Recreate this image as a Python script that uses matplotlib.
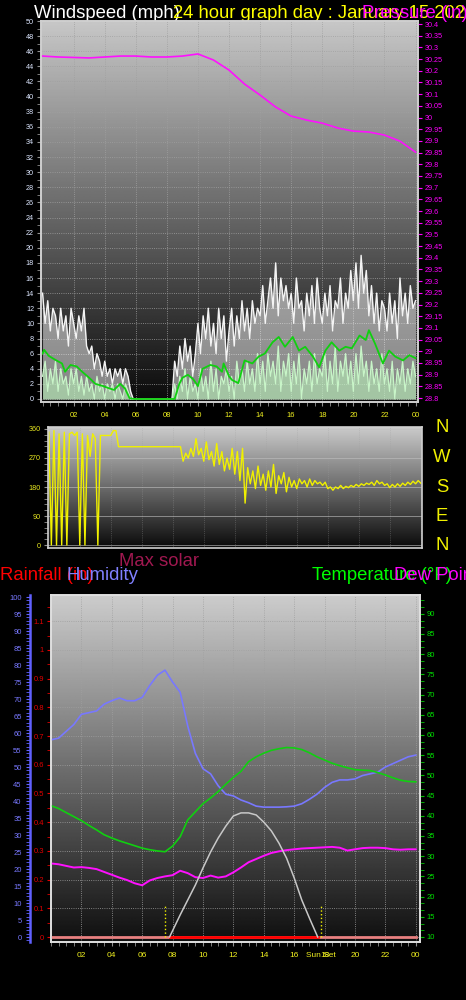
import numpy as np
import matplotlib
matplotlib.use('Agg')
from matplotlib import pyplot as plt
from matplotlib.ticker import MultipleLocator, FormatStrFormatter

plt.rcParams['font.family'] = ['Liberation Sans', 'DejaVu Sans']

LARG, ALT = 466, 1000
PASSO = 10  # minutos entre leituras de vento e direcao

# Vento: rajada e velocidade (mph), uma leitura a cada 10 min
Rajada = [14, 10, 13, 9, 12, 11, 8, 12, 9, 11, 7, 12,
          10, 8, 11, 9, 12, 7, 6, 7, 4, 6, 5, 3,
          5, 3, 4, 2, 4, 3, 4, 2, 4, 3, 1, 0,
          0, 0, 0, 0, 0, 0, 0, 0, 0, 0, 0, 0,
          0, 0, 0, 5, 3, 7, 4, 8, 5, 7, 3, 6,
          10, 6, 11, 8, 12, 7, 10, 6, 12, 8, 11, 5,
          9, 12, 7, 11, 8, 13, 9, 12, 8, 13, 10, 12,
          11, 15, 10, 13, 16, 12, 18, 11, 16, 13, 15, 12,
          14, 10, 16, 12, 13, 9, 14, 11, 15, 10, 16, 12,
          10, 14, 11, 15, 9, 13, 12, 16, 10, 14, 12, 17,
          13, 18, 12, 19, 14, 17, 11, 15, 10, 14, 9, 13,
          12, 9, 14, 10, 13, 8, 16, 11, 14, 10, 15, 12, 13]
Vento = [3, 5, 1, 4, 2, 5, 1, 4, 2, 3, 0.5, 4,
         2, 4, 1, 3, 0.5, 3, 1, 2, 0, 3, 1, 2,
         0, 2, 1, 2, 0, 2, 1, 0, 2, 1, 0, 0,
         0, 0, 0, 0, 0, 0, 0, 0, 0, 0, 0, 0,
         0, 0, 0, 2, 0, 3, 1, 4, 0, 3, 1, 2,
         0, 4, 1, 3, 0, 5, 1, 4, 0, 3, 2, 4,
         1, 3, 0, 5, 2, 4, 1, 5, 2, 4, 1, 6,
         2, 5, 1, 6, 3, 5, 2, 7, 1, 5, 3, 6,
         1, 5, 2, 6, 0, 4, 2, 5, 1, 6, 2, 4,
         3, 6, 1, 5, 2, 7, 1, 5, 3, 6, 2, 5,
         1, 6, 2, 7, 3, 5, 1, 5, 2, 4, 1, 6,
         2, 4, 1, 5, 0, 4, 2, 5, 1, 4, 2, 5, 3]

# Media do vento (hora, mph)
MediaHora = [0, 0.1, 0.4, 0.8, 1.25, 1.45, 1.8, 2.2, 2.55, 3.0, 3.4, 3.9, 4.3, 4.6,
             5.0, 5.3, 5.6, 5.9, 8.5, 8.8, 9.0, 9.35, 9.7, 10.0, 10.3, 10.8, 11.2,
             11.55, 11.65, 12.0, 12.2, 12.6, 13.0, 13.5, 13.9, 14.3, 14.8, 15.2, 15.6,
             16.1, 16.5, 16.9, 17.4, 17.8, 18.2, 18.6, 19.1, 19.5, 19.9, 20.4, 20.8,
             21.0, 21.4, 21.9, 22.3, 22.7, 23.2, 23.6, 24.0]
MediaVento = [6.0, 6.5, 5.7, 5.2, 4.7, 3.6, 4.5, 4.3, 3.6, 2.8, 2.0, 1.7, 1.4, 1.2,
              2.0, 1.4, 0.1, 0, 0, 2.0, 2.8, 3.2, 2.6, 1.7, 4.0, 4.5, 4.3,
              3.6, 4.7, 3.0, 2.5, 2.1, 5.1, 4.7, 5.6, 6.0, 7.5, 8.2, 6.9,
              8.2, 6.4, 6.9, 5.6, 4.2, 6.4, 7.5, 6.4, 6.9, 6.7, 8.4, 7.8,
              9.1, 7.3, 4.7, 6.4, 5.6, 5.1, 5.8, 5.4]

# Pressao (inHg), de hora em hora
PressaoHora = list(range(25))
Pressao = [30.263, 30.259, 30.257, 30.255, 30.259, 30.263, 30.263, 30.259, 30.259,
           30.263, 30.272, 30.246, 30.203, 30.143, 30.096, 30.045, 30.006, 29.989,
           29.976, 29.955, 29.942, 29.938, 29.925, 29.899, 29.852]

# Direcao do vento (graus), a cada 10 min
Direcao = [350, 0, 355, 0, 345, 0, 350, 0, 345, 350, 340, 350,
           0, 345, 0, 340, 275, 345, 330, 0, 340, 340, 340, 340,
           340, 355, 355, 305, 305, 305, 305, 305, 305, 305, 305, 305,
           305, 305, 305, 305, 305, 305, 305, 305, 305, 305, 305, 305,
           305, 305, 305, 305, 260, 285, 270, 300, 275, 330, 280, 300,
           260, 320, 265, 290, 245, 315, 250, 290, 230, 270, 235, 300,
           220, 290, 200, 300, 130, 240, 190, 230, 175, 245, 185, 220,
           170, 230, 180, 250, 160, 215, 190, 225, 165, 210, 180, 200,
           175, 205, 190, 200, 180, 205, 185, 200, 190, 195, 185, 195,
           175, 180, 170, 180, 175, 185, 175, 182, 178, 185, 180, 188,
           182, 190, 185, 192, 188, 195, 185, 200, 190, 195, 185, 190,
           178, 188, 180, 190, 182, 192, 185, 195, 188, 198, 190, 200, 192]

# Umidade (%), temperatura e ponto de orvalho (F), a cada 30 min
HoraMeia = [i / 2 for i in range(49)]
Umidade = [58, 58.5, 60.5, 62.5, 65.5, 66, 66.5, 68.5, 69.5, 70.3, 69.5, 69.5,
           70.5, 74, 77, 78.5, 75, 72, 62, 54, 49.5, 48, 44.5, 42,
           41.5, 40.3, 39.5, 38.5, 38.2, 38.2, 38.2, 38.3, 38.5, 39.2, 40.5, 42,
           44, 45.5, 46.2, 46.2, 46.5, 47.5, 48, 48.5, 50, 51, 52, 53, 53.5]
Temperatura = [42.5, 41.8, 40.8, 39.8, 38.8, 37.6, 36.5, 35.3, 34.5, 33.8, 33.2, 32.6,
               32, 31.6, 31.3, 31.1, 32.5, 34.8, 39, 41, 43, 44.4, 46, 47.8,
               49.5, 51, 53.4, 54.6, 55.5, 56.2, 56.6, 56.9, 56.8, 56.4, 55.6, 54.6,
               53.8, 53, 52.4, 51.9, 51.4, 51.3, 51.2, 50.7, 50.1, 49.4, 48.8, 48.5, 48.4]
Orvalho = [28.2, 28, 27.6, 27.2, 27.3, 27.1, 26.8, 26.1, 25.4, 24.7, 24.1, 23.3,
           22.8, 24, 24.6, 25, 25.3, 26.4, 25.8, 24.8, 24.6, 25.2, 24.7, 25,
           26, 27.2, 28.5, 29.3, 30.1, 30.8, 31.2, 31.5, 31.7, 31.9, 32, 32.1,
           32.2, 32.3, 32.1, 31.4, 31.7, 32, 32.1, 32.1, 32, 31.7, 31.6, 31.7, 31.7]

# Radiacao solar maxima (W/m2)
SolarHora = [7.8, 8.5, 9, 9.5, 10, 10.5, 11, 11.5, 12, 12.5, 13, 13.5, 14, 14.5,
             15, 15.5, 16, 16.5, 17, 17.55]
Solar = [0, 65, 109, 153, 203, 250, 291, 326, 356, 365, 365, 359, 338, 312,
         276, 232, 174, 109, 56, 0]

# Chuva (in)
ChuvaHora = [0, 24]
Chuva = [0.0, 0.0]

NascerSol = 7.5
PorSol = 17.75

HorasRotulo = [2, 4, 6, 8, 10, 12, 14, 16, 18, 20, 22, 24]
Rotulos = ['02', '04', '06', '08', '10', '12', '14', '16', '18', '20', '22', '00']


def caixa(x0, y0, x1, y1):
    return [x0 / LARG, 1 - y1 / ALT, (x1 - x0) / LARG, (y1 - y0) / ALT]


def fundo(ax, topo, base):
    grad = np.linspace(topo, base, 256)[:, None]
    ax.imshow(grad, extent=[0, 1, 0, 1], transform=ax.transAxes, cmap='gray',
              vmin=0, vmax=1, aspect='auto', zorder=0, interpolation='bilinear')


def moldura(ax, cor='#d0d0d0'):
    for lado in ax.spines.values():
        lado.set_color(cor)
        lado.set_linewidth(1.2)


def texto(x, y, s, cor, tam=13.3, **kw):
    fig.text(x / LARG, 1 - y / ALT, s, color=cor, fontsize=tam, zorder=-1, **kw)


fig = plt.figure(figsize=(LARG / 100, ALT / 100), dpi=100, facecolor='black')

#############################################################################
# Painel do vento e pressao
#############################################################################
ax1 = fig.add_axes(caixa(41, 21, 418, 402))
fundo(ax1, 0.78, 0.04)
t = np.arange(len(Rajada)) * PASSO / 60.

ax1.fill_between(t, 0, Rajada, color='white', alpha=0.5, lw=0, zorder=2)
ax1.plot(t, Rajada, color='#f4f4f4', lw=1.0, zorder=3)
ax1.fill_between(t, 0, Vento, color='#b8f0b8', alpha=0.6, lw=0, zorder=4)
ax1.plot(t, Vento, color='#c8f5c8', lw=0.9, zorder=5)
ax1.plot(MediaHora, MediaVento, color='#10d010', lw=1.3, zorder=6)

ax1.set_xlim(-0.1, 24.16)
ax1.set_ylim(-0.4, 50)
ax1.yaxis.set_major_locator(MultipleLocator(2))
ax1.yaxis.set_minor_locator(MultipleLocator(1))
ax1.set_xticks(HorasRotulo)
ax1.set_xticklabels(Rotulos)
ax1.xaxis.set_minor_locator(MultipleLocator(0.5))
ax1.tick_params(axis='y', which='both', colors='#909090', labelcolor='#dce6ff',
                labelsize=5.2, length=3, pad=2)
ax1.tick_params(axis='x', which='both', colors='#909090', labelcolor='#f0f020',
                labelsize=5.5, length=3, pad=4)
ax1.grid(True, which='major', color='#a0a0a0', ls=':', lw=0.6)
moldura(ax1)

ax1b = ax1.twinx()
ax1b.plot(PressaoHora, Pressao, color='#ff10ff', lw=1.2)
ax1b.set_ylim(28.783, 30.413)
ax1b.yaxis.set_major_locator(MultipleLocator(0.05))
ax1b.yaxis.set_major_formatter(FormatStrFormatter('%g'))
ax1b.tick_params(axis='y', colors='#ff00ff', labelcolor='#ff00ff', labelsize=5.2,
                 length=3, pad=2)
moldura(ax1b)

#############################################################################
# Painel da direcao
#############################################################################
ax2 = fig.add_axes(caixa(48, 427, 422, 548))
fundo(ax2, 0.80, 0.04)
ax2.plot(np.arange(len(Direcao)) * PASSO / 60., Direcao, color='#f0f000', lw=1)
ax2.set_xlim(-0.05, 24.08)
ax2.set_ylim(-9.3, 366.2)
ax2.set_yticks([0, 90, 180, 270, 360])
ax2.yaxis.set_minor_locator(MultipleLocator(18))
ax2.set_xticks(HorasRotulo)
ax2.set_xticklabels([])
ax2.tick_params(axis='x', length=0)
ax2.tick_params(axis='y', which='both', colors='#909090', labelcolor='#e8e820',
                labelsize=5.2, length=3, pad=2)
ax2.grid(True, axis='y', color='#c0c0c0', ls='-', lw=0.6, alpha=0.7)
ax2.grid(True, axis='x', color='#a0a0a0', ls=':', lw=0.5, alpha=0.6)
moldura(ax2)

for letra, y in zip(['N', 'W', 'S', 'E', 'N'], [428, 457.5, 487.5, 516.7, 545]):
    texto(442, y, letra, '#f0f000', ha='center', va='center')

#############################################################################
# Painel de chuva, umidade, temperatura e orvalho
#############################################################################
ax3 = fig.add_axes(caixa(51, 595, 420, 942))
fundo(ax3, 0.80, 0.06)
ax3.plot(ChuvaHora, Chuva, color='#e88080', lw=2, zorder=3)
ax3.plot([SolarHora[0], SolarHora[-1]], [0, 0], color='#ff0000', lw=2, zorder=4)
ax3.vlines([NascerSol, PorSol], 0, 0.11, colors='#f0f000', linestyles=':', lw=1, zorder=5)
ax3.set_xlim(0, 24.28)
ax3.set_ylim(-0.0174, 1.1916)
ax3.yaxis.set_major_locator(MultipleLocator(0.1))
ax3.yaxis.set_minor_locator(MultipleLocator(0.05))
ax3.yaxis.set_major_formatter(FormatStrFormatter('%g'))
ax3.set_xticks(HorasRotulo)
ax3.set_xticklabels(Rotulos)
ax3.xaxis.set_minor_locator(MultipleLocator(0.5))
ax3.tick_params(axis='y', which='both', colors='#e00000', labelcolor='#e00000',
                labelsize=5.5, length=3, pad=2)
ax3.tick_params(axis='x', which='both', colors='#909090', labelcolor='#f0f020',
                labelsize=6, length=3, pad=4)
ax3.grid(True, which='major', color='#a0a0a0', ls=':', lw=0.6)
moldura(ax3, '#e0e0e0')

ax_u = ax3.twinx()
ax_u.plot(HoraMeia, Umidade, color='#7878ff', lw=1.2)
ax_u.set_ylim(-1.47, 100.6)
ax_u.yaxis.tick_left()
ax_u.spines['left'].set_position(('axes', (30 - 51) / 369.))
ax_u.spines['left'].set_color('#6060ff')
ax_u.spines['left'].set_linewidth(1.8)
ax_u.spines['right'].set_visible(False)
ax_u.spines['top'].set_visible(False)
ax_u.spines['bottom'].set_visible(False)
ax_u.yaxis.set_major_locator(MultipleLocator(5))
ax_u.yaxis.set_minor_locator(MultipleLocator(1))
ax_u.tick_params(axis='y', which='both', colors='#6060ff', labelcolor='#7878ff',
                 labelsize=5.5, length=3, pad=3)

ax_t = ax3.twinx()
ax_t.plot(HoraMeia, Temperatura, color='#10d010', lw=1.2)
ax_t.plot(HoraMeia, Orvalho, color='#ff10ff', lw=1.4)
ax_t.set_ylim(8.76, 94.65)
ax_t.yaxis.set_major_locator(MultipleLocator(5))
ax_t.yaxis.set_minor_locator(MultipleLocator(5 / 3.))
ax_t.tick_params(axis='y', which='both', colors='#00c000', labelcolor='#00e000',
                 labelsize=5.5, length=3, pad=2)
moldura(ax_t, '#e0e0e0')

ax_s = ax3.twinx()
ax_s.plot(SolarHora, Solar, color='#c8c8c8', lw=1.1)
ax_s.set_ylim(-14.7, 1005.9)
ax_s.axis('off')

ax3.text(PorSol, -0.052, 'Sun Set', color='#f0f020', fontsize=6, ha='center', va='top',
         transform=ax3.transData, clip_on=False)

#############################################################################
# Titulos
#############################################################################
texto(34, 17.5, 'Windspeed (mph)', 'white')
texto(173, 17.5, '24 hour graph day : January 15 2023', '#ffff00')
texto(362, 17.5, 'Pressure (in)', '#ff00ff')
texto(119, 565.5, 'Max solar', '#a01850')
texto(0, 580.5, 'Rainfall (in)', '#ff0000')
texto(67, 580.5, 'Humidity', '#8080ff')
texto(312, 580.5, 'Temperature (\u00b0F)', '#00ff00')
texto(394, 580.5, 'Dew Point', '#ff00ff')

fig.savefig('out.png', dpi=100, facecolor='black')
